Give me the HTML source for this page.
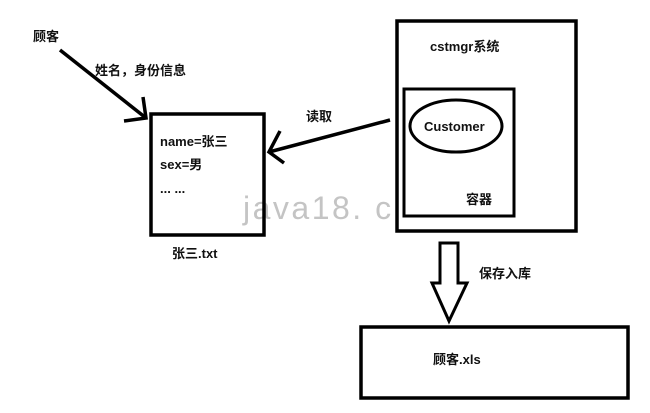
<!DOCTYPE html>
<html><head><meta charset="utf-8"><style>
html,body{margin:0;padding:0;background:#fff;width:650px;height:413px;overflow:hidden}
svg text{font-family:"Liberation Sans","Noto Sans CJK SC",sans-serif;font-weight:bold;font-size:13px;fill:#111}
</style></head><body>
<svg width="650" height="413" viewBox="0 0 650 413" xmlns="http://www.w3.org/2000/svg">
<text x="243" y="219" style="font-weight:normal;font-size:32px;fill:#c4c4c4;letter-spacing:2.5px">java18. cn</text>
<g fill="none" stroke="#000" stroke-width="3.5">
<rect x="151" y="114" width="113" height="121"/>
<rect x="397" y="21" width="179" height="210" fill="#fff"/>
<rect x="404" y="89" width="110" height="127" stroke-width="3"/>
<ellipse cx="456" cy="126" rx="46" ry="26" stroke-width="3"/>
<rect x="361" y="327" width="267" height="71"/>
<line x1="60" y1="50" x2="146" y2="118"/>
<polyline points="143,97 146,118 124,121"/>
<line x1="390" y1="120" x2="269" y2="152"/>
<polyline points="280,131 269,152 284,163"/>
<polygon points="440,243 458,243 458,283 467,283 449,321 432,283 440,283" stroke-width="3"/>
</g>
<text x="33" y="41">顾客</text>
<text x="95" y="75">姓名，身份信息</text>
<text x="306" y="121">读取</text>
<text x="160" y="146">name=张三</text>
<text x="160" y="169">sex=男</text>
<text x="160" y="193">... ...</text>
<text x="172" y="258">张三.txt</text>
<text x="430" y="51">cstmgr系统</text>
<text x="424" y="131">Customer</text>
<text x="466" y="204">容器</text>
<text x="479" y="278">保存入库</text>
<text x="433" y="364">顾客.xls</text>
</svg>
</body></html>
